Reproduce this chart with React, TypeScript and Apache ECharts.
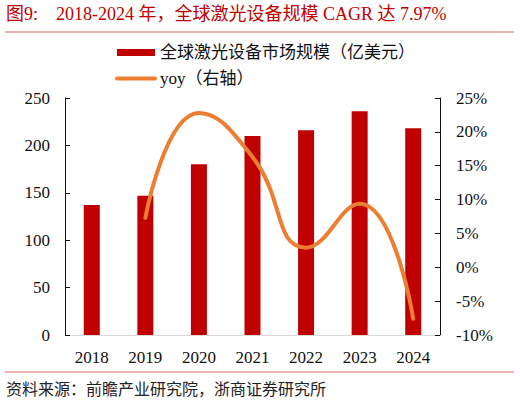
import React, { useEffect, useRef } from 'react'
import * as echarts from 'echarts'

const years = ['2018', '2019', '2020', '2021', '2022', '2023', '2024']
const marketSize = [137, 147, 180, 210, 216, 236, 218]
const yoy = [null, 7.3, 22.8, 16.3, 2.9, 9.4, -7.6]

const FONT = '"Liberation Serif", "Noto Sans CJK SC", serif'

const App: React.FC = () => {
  const chartRef = useRef<HTMLDivElement>(null)

  useEffect(() => {
    if (!chartRef.current) return
    const chart = echarts.init(chartRef.current, undefined, { renderer: 'svg' })

    const option = {
      animation: false,
      backgroundColor: '#fff',
      textStyle: { fontFamily: FONT },
      graphic: [
        {
          type: 'text',
          left: 6,
          top: 5,
          style: {
            text: '图9:    2018-2024 年，全球激光设备规模 CAGR 达 7.97%',
            fill: '#C00000',
            font: '18px ' + FONT,
          },
        },
        {
          type: 'line',
          shape: { x1: 5, y1: 32, x2: 514, y2: 32 },
          style: { stroke: '#E06666', lineWidth: 1.2 },
        },
        {
          type: 'line',
          shape: { x1: 5, y1: 372, x2: 514, y2: 372 },
          style: { stroke: '#E06666', lineWidth: 1.2 },
        },
        {
          type: 'text',
          left: 6,
          top: 381,
          style: {
            text: '资料来源：前瞻产业研究院，浙商证券研究所',
            fill: '#222',
            font: '16px ' + FONT,
          },
        },
      ],
      legend: {
        orient: 'vertical',
        left: 110,
        top: 39,
        itemGap: 9,
        itemWidth: 38,
        itemHeight: 7,
        textStyle: { fontSize: 17, color: '#111', fontFamily: FONT },
        data: [
          { name: '全球激光设备市场规模（亿美元）', icon: 'rect' },
          {
            name: 'yoy（右轴）',
            itemStyle: { opacity: 0 },
            lineStyle: { width: 4, color: '#ED7D31', cap: 'round' },
          },
        ],
      },
      grid: { left: 65, right: 80, top: 98, bottom: 68 },
      xAxis: {
        type: 'category',
        data: years,
        axisLine: { lineStyle: { color: '#d9d9d9', width: 1 } },
        axisTick: { show: false },
        axisLabel: { color: '#111', fontSize: 17, fontFamily: FONT, margin: 14 },
      },
      yAxis: [
        {
          type: 'value',
          min: 0,
          max: 250,
          interval: 50,
          splitLine: { show: false },
          axisLine: { show: true, lineStyle: { color: '#111' } },
          axisTick: { show: true, inside: true, length: 5, lineStyle: { color: '#111' } },
          axisLabel: { color: '#111', fontSize: 17, fontFamily: FONT, margin: 15 },
        },
        {
          type: 'value',
          min: -10,
          max: 25,
          interval: 5,
          position: 'right',
          splitLine: { show: false },
          axisLine: { show: true, lineStyle: { color: '#111' } },
          axisTick: { show: true, inside: true, length: 5, lineStyle: { color: '#111' } },
          axisLabel: {
            color: '#111',
            fontSize: 17,
            fontFamily: FONT,
            margin: 16,
            formatter: '{value}%',
          },
        },
      ],
      series: [
        {
          name: '全球激光设备市场规模（亿美元）',
          type: 'bar',
          data: marketSize,
          barWidth: 16,
          itemStyle: { color: '#C00000' },
        },
        {
          name: 'yoy（右轴）',
          type: 'line',
          yAxisIndex: 1,
          data: yoy,
          smooth: 0.5,
          showSymbol: false,
          symbol: 'none',
          lineStyle: { color: '#ED7D31', width: 4, cap: 'round' },
          itemStyle: { color: '#ED7D31' },
        },
      ],
    }

    chart.setOption(option)
    return () => chart.dispose()
  }, [])

  return (
    <div
      ref={chartRef}
      style={{ position: 'fixed', left: 0, top: 0, width: 520, height: 403 }}
    />
  )
}

export default App
